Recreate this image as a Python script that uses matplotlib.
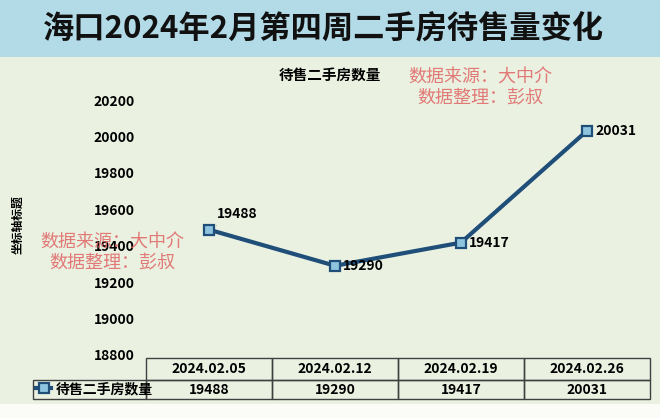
import matplotlib
matplotlib.use('Agg')
import matplotlib.pyplot as plt
from matplotlib.table import Table
from matplotlib.patches import Rectangle

plt.rcParams['font.family'] = ['Noto Sans CJK SC', 'DejaVu Sans']

# 数据
dates = ['2024.02.05', '2024.02.12', '2024.02.19', '2024.02.26']
counts = [19488, 19290, 19417, 20031]
series_name = '待售二手房数量'
yticks = [18800, 19000, 19200, 19400, 19600, 19800, 20000, 20200]

W, H = 660, 418
fig = plt.figure(figsize=(6.6, 4.18), dpi=100)
fig.patch.set_facecolor('#eaf1e1')

# 标题背景条和底部白条
fig.patches.append(Rectangle((0, 1 - 57 / H), 1, 57 / H, transform=fig.transFigure,
                             facecolor='#b3dbe7', edgecolor='none', zorder=0))
fig.patches.append(Rectangle((0, 0), 1, 14 / H, transform=fig.transFigure,
                             facecolor='#fbfbf8', edgecolor='none', zorder=0))
fig.text(0.49, 1 - 30 / H, '海口2024年2月第四周二手房待售量变化', ha='center', va='center',
         fontsize=22.5, fontweight='bold', color='#111111')

# 主图
ax = fig.add_axes([146 / W, (H - 355) / H, 504 / W, 255 / H])
ax.set_facecolor('none')
x = list(range(len(dates)))
ax.plot(x, counts, color='#1f4e79', lw=3, marker='s', ms=7,
        mfc='#8ec4de', mec='#1f4e79', mew=1.6, label=series_name, zorder=3)
ax.set_xlim(-0.5, len(dates) - 0.5)
ax.set_ylim(yticks[0], yticks[-1])
ax.set_yticks(yticks)
ax.set_yticklabels([str(v) for v in yticks], fontsize=10, fontweight='bold')
ax.tick_params(axis='y', length=0, pad=8)
ax.set_xticks([])
for s in ax.spines.values():
    s.set_visible(False)

# 数据标签
ax.annotate(str(counts[0]), (x[0], counts[0]), xytext=(20, 11), textcoords='offset points',
            ha='center', va='center', fontsize=10, fontweight='bold',
            arrowprops=dict(arrowstyle='-', color='#9fbf95', lw=0.7, shrinkA=2, shrinkB=6))
for i in range(1, len(counts)):
    ax.annotate(str(counts[i]), (x[i], counts[i]), xytext=(6, 0), textcoords='offset points',
                ha='left', va='center', fontsize=10, fontweight='bold')

# 数据表
tb = Table(ax, bbox=[-113 / 504, -44 / 255, 617 / 504, 41 / 255])
for j, d in enumerate(dates):
    c = tb.add_cell(0, j + 1, width=126, height=22, text=d, loc='center', facecolor='none')
    c.set_edgecolor('#404040')
    c.get_text().set_fontweight('bold')
c = tb.add_cell(1, 0, width=113, height=19, text='', facecolor='none')
c.set_edgecolor('#404040')
for j, v in enumerate(counts):
    c = tb.add_cell(1, j + 1, width=126, height=19, text=str(v), loc='center', facecolor='none')
    c.set_edgecolor('#404040')
    c.get_text().set_fontweight('bold')
tb.auto_set_font_size(False)
tb.set_fontsize(10)
ax.add_table(tb)

leg = ax.legend(loc='center left', bbox_to_anchor=(36 / W, (H - 389) / H),
                bbox_transform=fig.transFigure, frameon=False, borderpad=0,
                borderaxespad=0, handlelength=1.1, handletextpad=0.3,
                prop={'size': 10, 'weight': 'bold'})

# 图表标题与坐标轴标题
fig.text(330 / W, 1 - 75 / H, series_name, ha='center', va='center',
         fontsize=10.5, fontweight='bold')
fig.text(18 / W, 1 - 225 / H, '坐标轴标题', ha='center', va='center', rotation=90,
         fontsize=8.5, fontweight='bold')

# 水印
wm = '数据来源：大中介\n数据整理：彭叔'
for cx, cy in [(112, 253), (480, 88)]:
    fig.text(cx / W, 1 - cy / H, wm, ha='center', va='center', fontsize=13,
             color='#e06464', alpha=0.85, linespacing=1.2)

fig.savefig('out.png', dpi=100, facecolor=fig.get_facecolor())
